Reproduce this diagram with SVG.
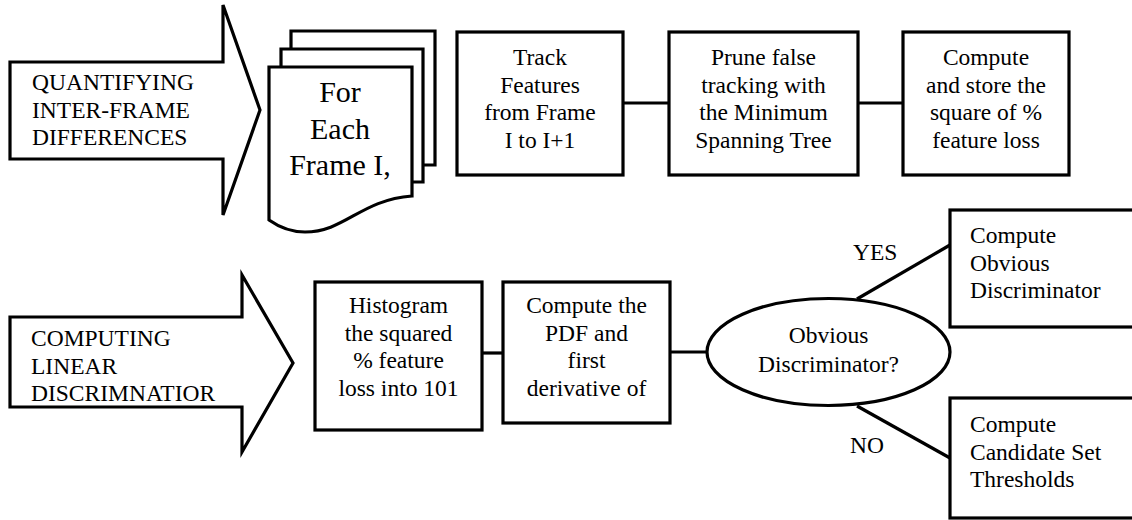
<svg xmlns="http://www.w3.org/2000/svg" width="1132" height="520" viewBox="0 0 1132 520" font-family="'Liberation Serif', 'Times New Roman', Times, Tinos, 'Noto Serif', 'DejaVu Serif', FreeSerif, serif" font-size="23.5">
<style>
.s{fill:#fff;stroke:#000;stroke-width:3.2;stroke-linejoin:miter}
.c{fill:none;stroke:#000;stroke-width:3.2}
.m{text-anchor:middle}
</style>
<rect width="1132" height="520" fill="#fff"/>
<g id="connectors">
<line class="c" x1="623" y1="103" x2="669" y2="103"/>
<line class="c" x1="858" y1="103" x2="903" y2="103"/>
<line class="c" x1="482" y1="353" x2="503" y2="353"/>
<line class="c" x1="670" y1="352" x2="707" y2="352"/>
<line class="c" x1="857" y1="299" x2="950" y2="245"/>
<line class="c" x1="857" y1="406" x2="950" y2="458"/>
<text x="853" y="260">YES</text>
<text x="850" y="453">NO</text>
</g>
<g id="arrow-quantifying">
<polygon class="s" points="10,62 223,62 223,5 260,110 223,215 223,159 10,159"/>
<text x="32" y="90">QUANTIFYING</text>
<text x="32" y="117.5">INTER-FRAME</text>
<text x="32" y="145">DIFFERENCES</text>
</g>
<g id="for-each-frame">
<polygon class="s" points="291,31 435,31 435,165 291,165"/>
<polygon class="s" points="281,49 423,49 423,182 281,182"/>
<path class="s" d="M269,67 L412,67 L412,196 C360,200 345,232 305,232 Q286,232 269,220 Z"/>
<text class="m" x="340" y="102" font-size="30">For</text>
<text class="m" x="340" y="139" font-size="30">Each</text>
<text class="m" x="340" y="175" font-size="30">Frame I,</text>
</g>
<g id="track">
<rect class="s" x="457" y="32" width="166" height="143"/>
<text class="m" x="540" y="65">Track</text>
<text class="m" x="540" y="92.5">Features</text>
<text class="m" x="540" y="120">from Frame</text>
<text class="m" x="540" y="147.5">I to I+1</text>
</g>
<g id="prune">
<rect class="s" x="669" y="32" width="189" height="143"/>
<text class="m" x="763.5" y="65">Prune false</text>
<text class="m" x="763.5" y="92.5">tracking with</text>
<text class="m" x="763.5" y="120">the Minimum</text>
<text class="m" x="763.5" y="147.5">Spanning Tree</text>
</g>
<g id="compute-store">
<rect class="s" x="903" y="32" width="166" height="143"/>
<text class="m" x="986" y="65">Compute</text>
<text class="m" x="986" y="92.5">and store the</text>
<text class="m" x="986" y="120">square of %</text>
<text class="m" x="986" y="147.5">feature loss</text>
</g>
<g id="arrow-computing">
<polygon class="s" points="10,317 242,317 242,275 293,363 242,452 242,407 10,407"/>
<text x="31" y="346">COMPUTING</text>
<text x="31" y="373.5">LINEAR</text>
<text x="31" y="401">DISCRIMNATIOR</text>
</g>
<g id="histogram">
<rect class="s" x="315" y="282" width="167" height="148"/>
<text class="m" x="398.5" y="313">Histogram</text>
<text class="m" x="398.5" y="340.5">the squared</text>
<text class="m" x="398.5" y="368">% feature</text>
<text class="m" x="398.5" y="395.5">loss into 101</text>
</g>
<g id="pdf">
<rect class="s" x="503" y="282" width="167" height="141"/>
<text class="m" x="586.5" y="313">Compute the</text>
<text class="m" x="586.5" y="340.5">PDF and</text>
<text class="m" x="586.5" y="368">first</text>
<text class="m" x="586.5" y="395.5">derivative of</text>
</g>
<g id="decision">
<ellipse class="s" cx="828.5" cy="352" rx="121.5" ry="53.5"/>
<text class="m" x="828.5" y="343">Obvious</text>
<text class="m" x="828.5" y="371.5">Discriminator?</text>
</g>
<g id="obvious">
<rect class="s" x="950" y="210" width="200" height="117"/>
<text x="970" y="243">Compute</text>
<text x="970" y="270.5">Obvious</text>
<text x="970" y="298">Discriminator</text>
</g>
<g id="candidate">
<rect class="s" x="950" y="398" width="200" height="120"/>
<text x="970" y="432">Compute</text>
<text x="970" y="459.5">Candidate Set</text>
<text x="970" y="487">Thresholds</text>
</g>
</svg>
